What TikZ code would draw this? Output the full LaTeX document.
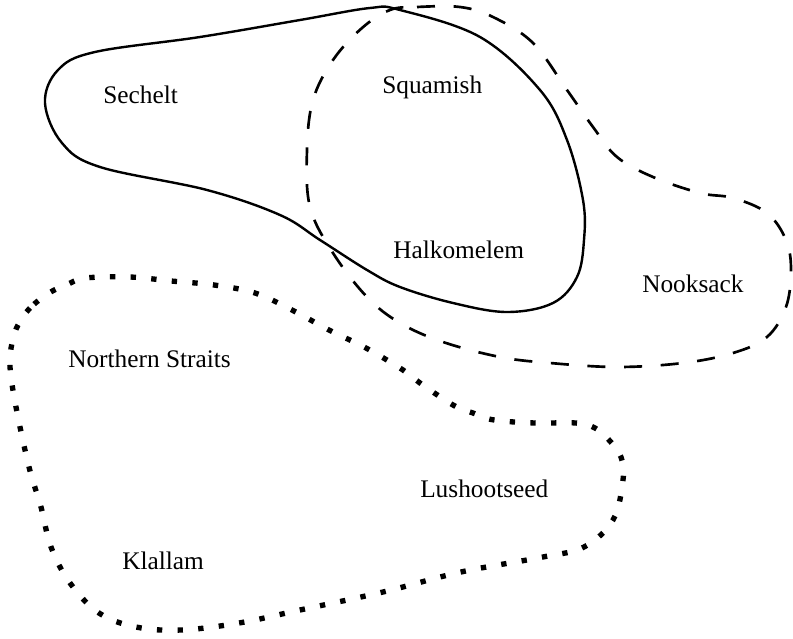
\documentclass[tikz,border=0pt]{standalone}
\usepackage{fontspec}
\setmainfont{Liberation Serif}

\begin{document}
\begin{tikzpicture}[x=0.75pt, y=-0.75pt]
	\tikzstyle{labelStyle}=[anchor = base west, inner sep = 0pt, font = \fontsize{19}{22}\selectfont]
	\tikzstyle{solidStyle}=[line width = 1.8pt, line join = round]
	\tikzstyle{dashedStyle}=[line width = 2pt, dash pattern = on 13.5pt off 14pt]
	\tikzstyle{dottedStyle}=[line width = 4pt, dash pattern = on 4pt off 11.5pt]
	\useasboundingbox (0,0) rectangle (793,639);
	\draw[solidStyle] plot[smooth cycle, tension = 0.6] coordinates {(45,103) (58,70) (95,52) (200,37) (300,20) (370,8) (400,10) (480,37) (540,90) (567,140) (583,200) (584,240) (577,277) (553,303) (507,312) (453,303) (400,287) (367,270) (320,240) (280,215) (207,190) (100,167) (62,143)};
	\draw[dashedStyle] plot[smooth cycle, tension = 0.6] coordinates {(390,10) (417,7) (460,7) (493,17) (533,43) (567,90) (593,127) (617,157) (653,177) (700,193) (733,198) (767,213) (786,240) (791,270) (786,307) (767,337) (733,353) (683,363) (617,367) (550,363) (500,357) (443,342) (400,323) (367,297) (333,253) (310,207) (307,150) (313,100) (333,60) (362,28)};
	\draw[dottedStyle] plot[smooth cycle, tension = 0.6] coordinates {(49,293) (30,308) (18,325) (12,343) (10,367) (16,407) (29,467) (41,507) (51,547) (70,583) (99,613) (136,627) (181,630) (239,623) (300,610) (383,592) (461,572) (543,557) (584,547) (613,520) (623,480) (621,457) (609,440) (595,428) (576,423) (535,423) (494,420) (473,413) (453,405) (420,383) (403,370) (366,348) (329,330) (292,310) (255,293) (214,285) (171,281) (130,277) (86,278) (66,285)};
	\node[labelStyle] (sechelt) at (103,103) {Sechelt};
	\node[labelStyle] (squamish) at (382,93) {Squamish};
	\node[labelStyle] (halkomelem) at (393,258) {Halkomelem};
	\node[labelStyle] (nooksack) at (642,292) {Nooksack};
	\node[labelStyle] (northern) at (68,367) {Northern Straits};
	\node[labelStyle] (lushootseed) at (420,497) {Lushootseed};
	\node[labelStyle] (klallam) at (122,569) {Klallam};
\end{tikzpicture}
\end{document}
